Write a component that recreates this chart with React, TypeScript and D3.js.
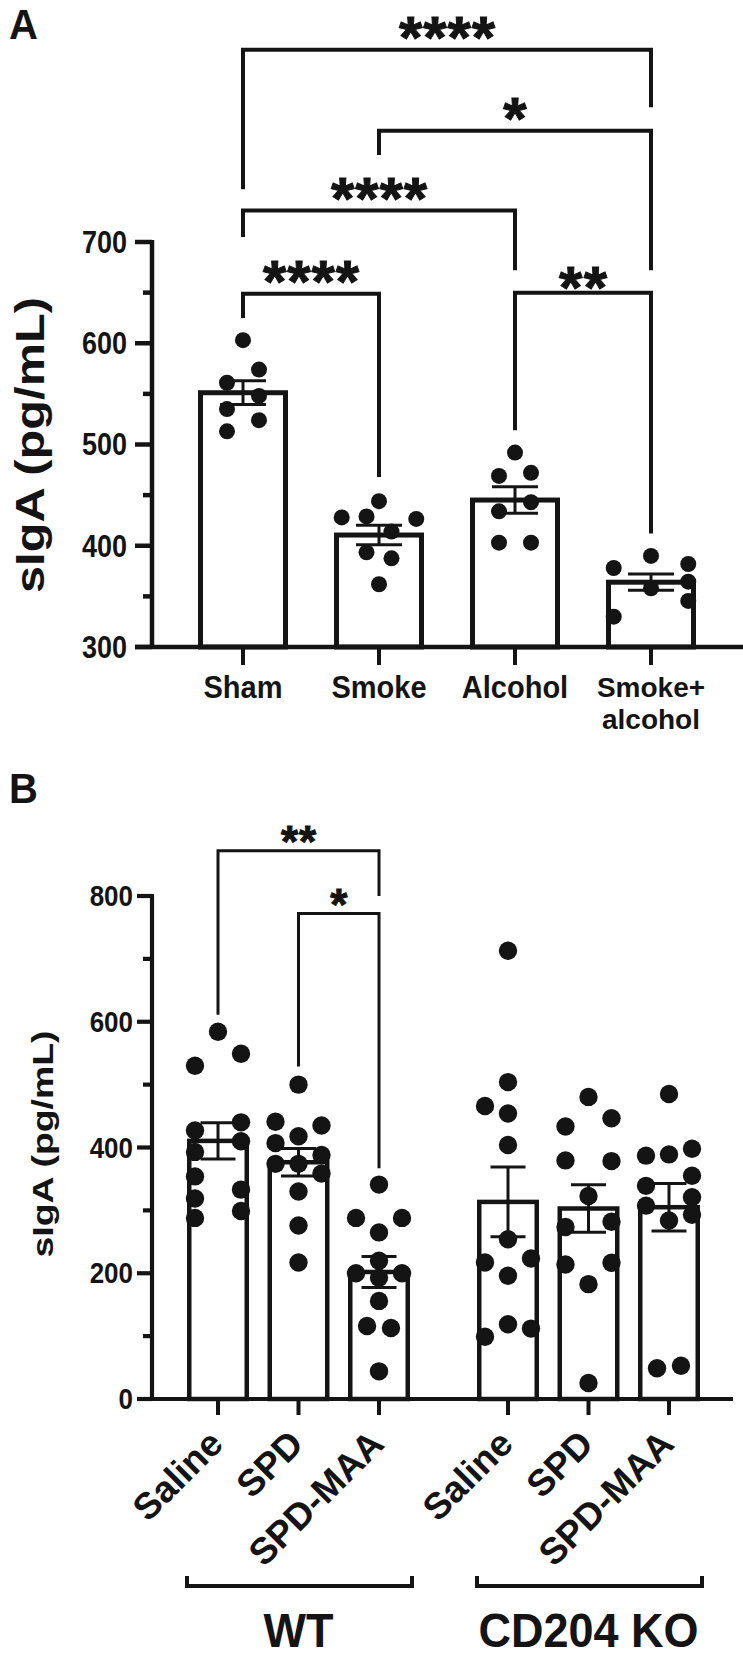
import React from 'react';
import * as d3 from 'd3';

const FONT = '"Liberation Sans", Arial, Helvetica, sans-serif';
const INK = '#141414';

// ---------- Panel A data ----------
const groupsA = ['Sham', 'Smoke', 'Alcohol', 'Smoke+alcohol'];
const labelsA = [['Sham'], ['Smoke'], ['Alcohol'], ['Smoke+', 'alcohol']];
const shamA = [603, 574, 561, 548, 535, 524, 513];
const smokeA = [444, 429, 428, 426.5, 414, 393.5, 387.6, 362];
const alcoholA = [492, 472, 469, 443, 434, 403, 403];
const smokeAlcoholA = [390, 382, 378, 364.5, 358, 345.5, 330];
// horizontal spread of the symbols, in symbol diameters
const spreadShamA = [0, 1, -1, 1, -1, 1, -1];
const spreadSmokeA = [0, -0.78, -2.33, 2.33, 0.78, -0.78, 0.78, 0];
const spreadAlcoholA = [0, 1, -1, 1, -1, -1, 1];
const spreadSmokeAlcoholA = [0, 2.33, -2.33, 2.33, 0, 2.33, -2.33];
const majorTicksA = [300, 400, 500, 600, 700];
const minorTicksA = [350, 450, 550, 650];
// comparisons: groups, label, bracket level and leg ends (data units)
const compsA = [
  { a: 0, b: 3, label: '****', level: 890, legA: 752, legB: 833 },
  { a: 1, b: 3, label: '*', level: 810, legA: 786, legB: 672 },
  { a: 0, b: 2, label: '****', level: 731, legA: 705, legB: 672 },
  { a: 0, b: 1, label: '****', level: 649, legA: 625, legB: 468 },
  { a: 2, b: 3, label: '**', level: 650, legA: 514, legB: 412 },
];

// ---------- Panel B data ----------
const genotypesB = ['WT', 'CD204 KO'];
const treatmentsB = ['Saline', 'SPD', 'SPD-MAA'];
const wtSaline = [584, 549, 530, 440, 427, 410, 393, 354, 333, 319, 299, 288];
const wtSPD = [500, 441, 435, 418, 407, 388, 374, 374, 358.5, 330, 276, 217];
const wtSPDMAA = [341, 288, 288, 265, 220, 200, 200, 193, 156, 116, 113, 44];
const koSaline = [713, 504, 466, 454, 404, 254, 223.5, 217, 196, 119, 112, 99];
const koSPD = [480.5, 446.5, 433.5, 379.5, 378.4, 323, 282, 273.5, 216.7, 214, 182.7, 25.4];
const koSPDMAA = [485, 398, 389, 387, 355, 339, 321, 307.5, 293, 284, 53, 49];
const spreadWtSaline = [0, 1.25, -1.25, 1.25, -1.25, 1.25, -1.25, -1.25, 1.25, -1.25, 1.25, -1.25];
const spreadWtSPD = [0, -1.25, 1.25, 0, -1.25, 1.25, -1.25, 0, 1.25, 0, 0, 0];
const spreadWtSPDMAA = [0, -1.25, 1.25, 0, 0, -1.25, 1.25, 0, 0, -0.65, 0.65, 0];
const spreadKoSaline = [0, 0, -1.25, 0, 0, 0, 1.25, -1.25, 0, 0, 1.25, -1.25];
const spreadKoSPD = [0, 1.25, -1.25, -1.25, 1.25, 0, 1.25, -1.25, 1.25, -1.25, 0, 0];
const spreadKoSPDMAA = [0, 1.25, 0, -1.25, 1.25, -1.25, 1.25, -1.25, 1.25, 0, 0.65, -0.65];
const majorTicksB = [0, 200, 400, 600, 800];
const minorTicksB = [100, 300, 500, 700];
const compsB = [
  { a: 0, b: 2, label: '**', level: 872, legA: 611, legB: 800 },
  { a: 1, b: 2, label: '*', level: 772, legA: 529, legB: 367 },
];

const seriesA = [shamA, smokeA, alcoholA, smokeAlcoholA];
const spreadsA = [spreadShamA, spreadSmokeA, spreadAlcoholA, spreadSmokeAlcoholA];
const seriesB = [[wtSaline, wtSPD, wtSPDMAA], [koSaline, koSPD, koSPDMAA]];
const spreadsB = [[spreadWtSaline, spreadWtSPD, spreadWtSPDMAA], [spreadKoSaline, spreadKoSPD, spreadKoSPDMAA]];

const sem = (v: number[]) => (d3.deviation(v) as number) / Math.sqrt(v.length);

// horizontal text, slightly stretched vertically (the figure is taller than wide)
function TT({ x, y, size, k = 1.1, anchor = 'middle', children }: { x: number; y: number; size: number; k?: number; anchor?: string; children: React.ReactNode }) {
  return (
    <text transform={`translate(${x},${y}) scale(1,${k})`} textAnchor={anchor} fontFamily={FONT} fontWeight="bold" fontSize={size} fill={INK}>
      {children}
    </text>
  );
}

function Stars({ x, y, text, size, adv }: { x: number; y: number; text: string; size: number; adv: number }) {
  // y = vertical centre of the glyphs
  return (
    <text
      x={x}
      y={y + size * 0.6}
      textAnchor="middle"
      fontFamily={FONT}
      fontWeight="bold"
      fontSize={size}
      fill={INK}
      stroke={INK}
      strokeWidth={1}
      textLength={text.length > 1 ? adv * text.length : undefined}
      lengthAdjust="spacing"
    >
      {text}
    </text>
  );
}

function PanelA() {
  const y = d3.scaleLinear().domain([300, 700]).range([647, 242]);
  const x = d3.scaleBand<string>().domain(groupsA).range([175, 719]);
  const cx = (i: number) => (x(groupsA[i]) as number) + x.bandwidth() / 2;
  const barW = 85;
  const r = 8;
  return (
    <g>
      <TT x={9} y={39} size={40} k={1.05} anchor="start">A</TT>
      {seriesA.map((vals, i) => {
        const m = d3.mean(vals) as number;
        return (
          <rect key={i} x={cx(i) - barW / 2} y={y(m)} width={barW} height={y(300) - y(m)}
            fill="#fff" stroke={INK} strokeWidth={5} />
        );
      })}
      {seriesA.map((vals, i) =>
        vals.map((v, j) => (
          <circle key={`${i}-${j}`} cx={cx(i) + spreadsA[i][j] * 2 * r} cy={y(v)} r={r} fill={INK} />
        ))
      )}
      {seriesA.map((vals, i) => {
        const m = d3.mean(vals) as number;
        const s = sem(vals);
        const c = cx(i);
        return (
          <g key={i} stroke={INK} strokeWidth={3}>
            <line x1={c} x2={c} y1={y(m + s)} y2={y(m - s)} />
            <line x1={c - 23} x2={c + 23} y1={y(m + s)} y2={y(m + s)} />
            <line x1={c - 23} x2={c + 23} y1={y(m - s)} y2={y(m - s)} />
          </g>
        );
      })}
      <line x1={152} x2={152} y1={y(700) - 2} y2={y(300)} stroke={INK} strokeWidth={4.5} />
      <line x1={135} x2={743} y1={y(300)} y2={y(300)} stroke={INK} strokeWidth={4.5} />
      {majorTicksA.map((t) => (
        <g key={t}>
          <line x1={135} x2={152} y1={y(t)} y2={y(t)} stroke={INK} strokeWidth={4.5} />
          <TT x={127} y={y(t) + 10.8} size={27} k={1.15} anchor="end">{t}</TT>
        </g>
      ))}
      {minorTicksA.map((t) => (
        <line key={t} x1={143} x2={152} y1={y(t)} y2={y(t)} stroke={INK} strokeWidth={4.5} />
      ))}
      {groupsA.map((g, i) => (
        <g key={g}>
          <line x1={cx(i)} x2={cx(i)} y1={y(300)} y2={665} stroke={INK} strokeWidth={4} />
          {labelsA[i].length === 1 ? (
            <TT x={cx(i)} y={698} size={29} k={1.05}>{labelsA[i][0]}</TT>
          ) : (
            labelsA[i].map((l, k) => (
              <text key={k} x={cx(i)} y={697 + k * 31.5} textAnchor="middle" fontFamily={FONT}
                fontWeight="bold" fontSize={28} fill={INK}>{l}</text>
            ))
          )}
        </g>
      ))}
      <text transform={`translate(44,445) rotate(-90)`} textAnchor="middle" fontFamily={FONT} fontWeight="bold"
        fontSize={40} fill={INK} textLength={296} lengthAdjust="spacingAndGlyphs">sIgA (pg/mL)</text>
      {compsA.map((c, i) => {
        const xa = cx(c.a), xb = cx(c.b);
        return (
          <g key={i}>
            <path d={`M${xa},${y(c.legA)}V${y(c.level)}H${xb}V${y(c.legB)}`} fill="none" stroke={INK} strokeWidth={4} />
            <Stars x={(xa + xb) / 2} y={y(c.level) - (c.label === '**' ? 21 : 28)} text={c.label} size={60} adv={24} />
          </g>
        );
      })}
    </g>
  );
}

function PanelB() {
  const y = d3.scaleLinear().domain([0, 800]).range([1399, 896]);
  const outer = d3.scaleBand<string>().domain(genotypesB).range([177.75, 709.25]).paddingInner(0.1672);
  const inner = d3.scaleBand<string>().domain(treatmentsB).range([0, outer.bandwidth()]);
  const cx = (g: number, t: number) => (outer(genotypesB[g]) as number) + (inner(treatmentsB[t]) as number) + inner.bandwidth() / 2;
  const barW = 57.5;
  const r = 9.2;
  return (
    <g>
      <TT x={9} y={803} size={40} k={1.05} anchor="start">B</TT>
      {seriesB.map((grp, g) =>
        grp.map((vals, t) => {
          const m = d3.mean(vals) as number;
          return (
            <rect key={`${g}-${t}`} x={cx(g, t) - barW / 2} y={y(m)} width={barW} height={y(0) - y(m)}
              fill="#fff" stroke={INK} strokeWidth={4.5} />
          );
        })
      )}
      {seriesB.map((grp, g) =>
        grp.map((vals, t) =>
          vals.map((v, j) => (
            <circle key={`${g}-${t}-${j}`} cx={cx(g, t) + spreadsB[g][t][j] * 2 * r} cy={y(v)} r={r} fill={INK} />
          ))
        )
      )}
      {seriesB.map((grp, g) =>
        grp.map((vals, t) => {
          const m = d3.mean(vals) as number;
          const s = sem(vals);
          const c = cx(g, t);
          return (
            <g key={`${g}-${t}`} stroke={INK} strokeWidth={3}>
              <line x1={c} x2={c} y1={y(m + s)} y2={y(m - s)} />
              <line x1={c - 17.5} x2={c + 17.5} y1={y(m + s)} y2={y(m + s)} />
              <line x1={c - 17.5} x2={c + 17.5} y1={y(m - s)} y2={y(m - s)} />
            </g>
          );
        })
      )}
      <line x1={152} x2={152} y1={y(800) - 2} y2={y(0)} stroke={INK} strokeWidth={4.2} />
      <line x1={137} x2={733} y1={y(0)} y2={y(0)} stroke={INK} strokeWidth={4.2} />
      {majorTicksB.map((t) => (
        <g key={t}>
          <line x1={137} x2={152} y1={y(t)} y2={y(t)} stroke={INK} strokeWidth={4.2} />
          <TT x={133} y={y(t) + 10} size={26} k={1.15} anchor="end">{t}</TT>
        </g>
      ))}
      {minorTicksB.map((t) => (
        <line key={t} x1={143} x2={152} y1={y(t)} y2={y(t)} stroke={INK} strokeWidth={4.2} />
      ))}
      {genotypesB.map((gname, g) => (
        <g key={gname}>
          {treatmentsB.map((tn, t) => (
            <g key={tn}>
              <line x1={cx(g, t)} x2={cx(g, t)} y1={y(0)} y2={1415} stroke={INK} strokeWidth={4} />
              <text transform={`translate(${cx(g, t) + 7},1446) rotate(-45)`} textAnchor="end" fontFamily={FONT}
                fontWeight="bold" fontSize={37} fill={INK}>{tn}</text>
            </g>
          ))}
          <path d={`M${cx(g, 0) - 31},1576V1586H${cx(g, 2) + 33}V1576`} fill="none" stroke={INK} strokeWidth={4} />
          <TT x={(cx(g, 0) + cx(g, 2)) / 2} y={1647} size={45} k={1.08}>{gname}</TT>
        </g>
      ))}
      <text transform={`translate(53,1144) rotate(-90)`} textAnchor="middle" fontFamily={FONT} fontWeight="bold"
        fontSize={30} fill={INK} textLength={227} lengthAdjust="spacingAndGlyphs">sIgA (pg/mL)</text>
      {compsB.map((c, i) => {
        const xa = cx(0, c.a), xb = cx(0, c.b);
        return (
          <g key={i}>
            <path d={`M${xa},${y(c.legA)}V${y(c.level)}H${xb}V${y(c.legB)}`} fill="none" stroke={INK} strokeWidth={3} />
            <Stars x={(xa + xb) / 2} y={y(c.level) - 20} text={c.label} size={44} adv={17.5} />
          </g>
        );
      })}
    </g>
  );
}

export default function App() {
  return (
    <svg width={743} height={1665} viewBox="0 0 743 1665" style={{ position: 'absolute', left: 0, top: 0, background: '#fff' }}>
      <rect width={743} height={1665} fill="#fff" />
      <PanelA />
      <PanelB />
    </svg>
  );
}
